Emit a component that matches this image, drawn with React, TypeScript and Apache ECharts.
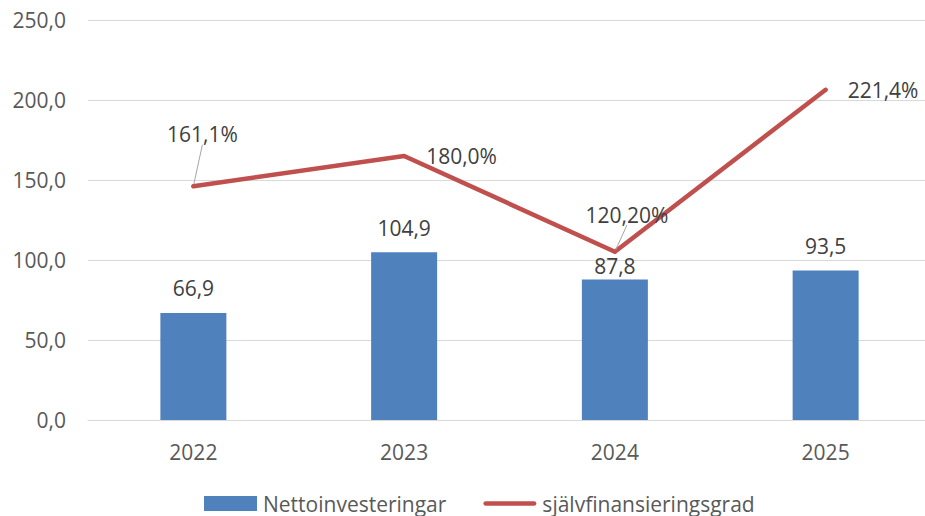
import React, { useEffect, useRef } from "react";
import * as echarts from "echarts";

// Kategorier och serier
const years = ["2022", "2023", "2024", "2025"];
const nettoinvesteringar = [66.9, 104.9, 87.8, 93.5];
const sjalvfinansieringsgrad = [161.1, 180.0, 120.2, 221.4];
// antal decimaler som respektive procentetikett visas med
const gradDecimals = [1, 1, 2, 1];
// etiketter som är flyttade från punkten och får en hänvisningslinje
const movedLabels = [true, false, true, false];

// Vänster värdeaxel
const yMin = 0;
const yMax = 250;
const yStep = 50;

const FONT = "'Open Sans', 'Noto Sans', sans-serif";
const BLUE = "#4F81BD";
const RED = "#C0504D";
const AXIS_TEXT = "#595959";
const LABEL_TEXT = "#404040";
const GRID = "#D9D9D9";

const comma = (v: number, d: number) => v.toFixed(d).replace(".", ",");

// rundad stapel som legendsymbol för linjen
const LINE_ICON = "path://M2.5,0 L53.5,0 A2.5,2.5 0 0 1 53.5,5 L2.5,5 A2.5,2.5 0 0 1 2.5,0 Z";

export default function App() {
  const ref = useRef<HTMLDivElement>(null);

  useEffect(() => {
    if (!ref.current) return;
    const chart = echarts.init(ref.current, null, { renderer: "svg" });

    chart.setOption({
      animation: false,
      textStyle: { fontFamily: FONT },
      grid: { left: 88, right: 0, top: 20, bottom: 96, containLabel: false },
      legend: {
        left: 204,
        top: 493,
        padding: 0,
        itemWidth: 53,
        itemHeight: 15,
        itemGap: 37,
        textStyle: { fontFamily: FONT, fontSize: 21, color: AXIS_TEXT, padding: [0, 0, 0, 1] },
        data: [
          { name: "Nettoinvesteringar", icon: "rect" },
          { name: "självfinansieringsgrad", icon: LINE_ICON },
        ],
      },
      xAxis: {
        type: "category",
        data: years,
        boundaryGap: true,
        axisLine: { show: true, lineStyle: { color: GRID, width: 1 } },
        axisTick: { show: false },
        axisLabel: { fontFamily: FONT, fontSize: 21, color: AXIS_TEXT, margin: 21 },
      },
      yAxis: [
        {
          type: "value",
          min: yMin,
          max: yMax,
          interval: yStep,
          axisLine: { show: false },
          axisTick: { show: false },
          splitLine: { lineStyle: { color: GRID, width: 1 } },
          axisLabel: {
            fontFamily: FONT,
            fontSize: 21,
            color: AXIS_TEXT,
            margin: 22,
            formatter: (v: number) => comma(v, 1),
          },
        },
        {
          // dold procentaxel för självfinansieringsgraden
          type: "value",
          min: 15,
          max: 265,
          show: false,
          splitLine: { show: false },
        },
      ],
      series: [
        {
          name: "Nettoinvesteringar",
          type: "bar",
          barWidth: 66,
          itemStyle: { color: BLUE },
          data: nettoinvesteringar.map((v, i) => ({
            value: v,
            label: { distance: i === 2 ? 3 : 14 },
          })),
          label: {
            show: true,
            position: "top",
            fontFamily: FONT,
            fontSize: 21,
            color: LABEL_TEXT,
            formatter: (p: any) => comma(p.value, 1),
          },
        },
        {
          name: "självfinansieringsgrad",
          type: "line",
          yAxisIndex: 1,
          symbol: "circle",
          symbolSize: 4,
          showSymbol: true,
          itemStyle: { color: RED },
          lineStyle: { color: RED, width: 4.5, cap: "round", join: "round" },
          data: sjalvfinansieringsgrad.map((v, i) => ({
            value: v,
            labelLine: { show: movedLabels[i] },
          })),
          label: {
            show: true,
            position: "right",
            distance: 20,
            fontFamily: FONT,
            fontSize: 21,
            color: LABEL_TEXT,
            formatter: (p: any) => comma(p.value, gradDecimals[p.dataIndex]) + "%",
          },
          labelLine: { show: false, lineStyle: { color: "#A6A6A6", width: 1 } },
          labelLayout: (p: any) => {
            const cx = p.rect.x + p.rect.width / 2;
            const cy = p.rect.y + p.rect.height / 2;
            const lx = p.labelRect.x + p.labelRect.width / 2;
            const ly = p.labelRect.y + p.labelRect.height / 2;
            if (p.dataIndex === 0) return { dx: cx + 9 - lx, dy: cy - 52 - ly };
            if (p.dataIndex === 2) return { dx: cx + 12 - lx, dy: cy - 37 - ly };
            return {};
          },
        },
      ],
    });

    return () => chart.dispose();
  }, []);

  return (
    <div
      style={{
        position: "fixed",
        left: 0,
        top: 0,
        width: 925,
        height: 516,
        overflow: "hidden",
        background: "#fff",
      }}
    >
      <div ref={ref} style={{ width: 931, height: 516 }} />
    </div>
  );
}
